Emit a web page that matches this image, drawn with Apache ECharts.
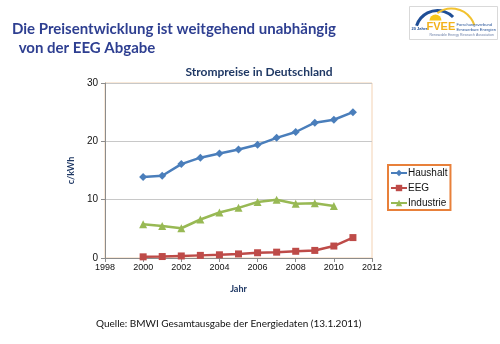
<!DOCTYPE html>
<html>
<head>
<meta charset="utf-8">
<script src="https://cdn.jsdelivr.net/npm/echarts@6/dist/echarts.min.js"></script>
<style>
html,body{margin:0;padding:0;background:#fff;}
#c{width:500px;height:344px;}
</style>
</head>
<body>
<div id="c"></div>
<script>
var years = [2000, 2001, 2002, 2003, 2004, 2005, 2006, 2007, 2008, 2009, 2010, 2011];
var haushalt = [13.9, 14.1, 16.1, 17.2, 17.9, 18.6, 19.4, 20.6, 21.6, 23.2, 23.7, 25.0];
var eeg = [0.2, 0.25, 0.35, 0.45, 0.55, 0.7, 0.9, 1.0, 1.15, 1.3, 2.05, 3.5];
var industrie = [5.8, 5.5, 5.1, 6.6, 7.8, 8.6, 9.6, 10.0, 9.3, 9.4, 8.9];
var xTicks = [1998, 2000, 2002, 2004, 2006, 2008, 2010, 2012];
var yTicks = [0, 10, 20, 30];

function pairs(vals) {
  return vals.map(function (v, i) { return [years[i], v]; });
}

var chart = echarts.init(document.getElementById('c'));
var option = {
  backgroundColor: '#ffffff',
  animation: false,
  title: {
    text: 'Strompreise in Deutschland',
    left: 254, top: 61, textAlign: 'center',
    textStyle: { fontFamily: 'Lato', fontWeight: 'bold', fontSize: 12, color: '#1f3864' }
  },
  grid: {
    left: 105, right: 128, top: 83, bottom: 86,
    show: true, borderColor: '#f3d2b3', borderWidth: 1, backgroundColor: 'transparent'
  },
  legend: {
    orient: 'vertical',
    left: 388, top: 165,
    padding: [3, 3, 2, 2],
    borderColor: '#e8803a', borderWidth: 2,
    itemWidth: 16, itemHeight: 8, itemGap: 5,
    textStyle: { fontFamily: 'Liberation Sans', fontSize: 10, color: '#111', padding: [0, 0, 0, -4] },
    data: ['Haushalt', 'EEG', 'Industrie']
  },
  xAxis: {
    type: 'value', min: xTicks[0], max: xTicks[xTicks.length - 1], interval: 2,
    name: 'Jahr', nameLocation: 'middle', nameGap: 27,
    nameTextStyle: { fontFamily: 'Lato', fontWeight: 'bold', fontSize: 9, color: '#1f3864' },
    axisLine: { lineStyle: { color: '#8c8c8c' } },
    axisTick: { show: true, length: 4, lineStyle: { color: '#8c8c8c' } },
    splitLine: { show: false },
    axisLabel: { fontFamily: 'Liberation Sans', fontSize: 9, color: '#111', margin: 5,
      formatter: function (v) { return String(v); } }
  },
  yAxis: {
    type: 'value', min: yTicks[0], max: yTicks[yTicks.length - 1], interval: 10,
    name: 'c/kWh', nameLocation: 'middle', nameGap: 21, nameRotate: 90,
    nameTextStyle: { fontFamily: 'Lato', fontWeight: 'bold', fontSize: 9, color: '#1f3864' },
    axisLine: { show: true, lineStyle: { color: '#8c8c8c' } },
    axisTick: { show: true, length: 4, lineStyle: { color: '#8c8c8c' } },
    splitLine: { lineStyle: { color: '#c8c8c8' } },
    axisLabel: { fontFamily: 'Liberation Sans', fontSize: 10, color: '#111', margin: 7 }
  },
  series: [
    {
      name: 'Haushalt', type: 'line', data: pairs(haushalt),
      symbol: 'diamond', symbolSize: 8,
      lineStyle: { color: '#4a7ebb', width: 2.5 },
      itemStyle: { color: '#4a7ebb' }
    },
    {
      name: 'EEG', type: 'line', data: pairs(eeg),
      symbol: 'rect', symbolSize: 7,
      lineStyle: { color: '#be4b48', width: 2.5 },
      itemStyle: { color: '#be4b48' }
    },
    {
      name: 'Industrie', type: 'line', data: pairs(industrie),
      symbol: 'triangle', symbolSize: 8,
      lineStyle: { color: '#98b954', width: 2.5 },
      itemStyle: { color: '#98b954' }
    }
  ],
  graphic: [
    {
      type: 'text', left: 12, top: 22,
      style: { text: 'Die Preisentwicklung ist weitgehend unabhängig', font: 'bold 15px Lato', fill: '#2e3f91' }
    },
    {
      type: 'text', left: 15, top: 41,
      style: { text: ' von der EEG Abgabe', font: 'bold 15px Lato', fill: '#2e3f91' }
    },
    {
      type: 'text', left: 96, top: 319,
      style: { text: 'Quelle: BMWI Gesamtausgabe der Energiedaten (13.1.2011)', font: '10px Lato', fill: '#111' }
    },
    {
      type: 'group', left: 409, top: 6,
      children: [
        { type: 'rect', shape: { x: 0, y: 0, width: 88, height: 33 }, style: { fill: '#fff', stroke: '#d9d9d9', lineWidth: 1 } },
        { type: 'circle', shape: { cx: 26, cy: 14, r: 6 }, style: { fill: '#f6c619' } },
        { type: 'rect', shape: { x: 18, y: 14, width: 16, height: 7 }, style: { fill: '#fff' } },
        { type: 'arc', shape: { cx: 28, cy: 26, r: 22, startAngle: Math.PI * 1.1, endAngle: Math.PI * 1.75 }, style: { stroke: '#1f4e96', lineWidth: 3, fill: null } },
        { type: 'arc', shape: { cx: 42, cy: 26, r: 24, startAngle: Math.PI * 1.3, endAngle: Math.PI * 1.9 }, style: { stroke: '#f2c230', lineWidth: 2, fill: null } },
        { type: 'text', x: 2, y: 20, style: { text: '20 Jahre', font: 'bold 4px Liberation Sans', fill: '#1f4e96' } },
        { type: 'text', x: 17, y: 15, style: { text: 'FVEE', font: 'bold 11px Liberation Sans', fill: '#f2b21b' } },
        { type: 'text', x: 47, y: 16, style: { text: 'Forschungsverbund', font: '4px Liberation Sans', fill: '#1f4e96' } },
        { type: 'text', x: 47, y: 21, style: { text: 'Erneuerbare Energien', font: '4px Liberation Sans', fill: '#1f4e96' } },
        { type: 'text', x: 20, y: 27, style: { text: 'Renewable Energy Research Association', font: '3.5px Liberation Sans', fill: '#6b7fa8' } }
      ]
    }
  ]
};
chart.setOption(option);
</script>
</body>
</html>
